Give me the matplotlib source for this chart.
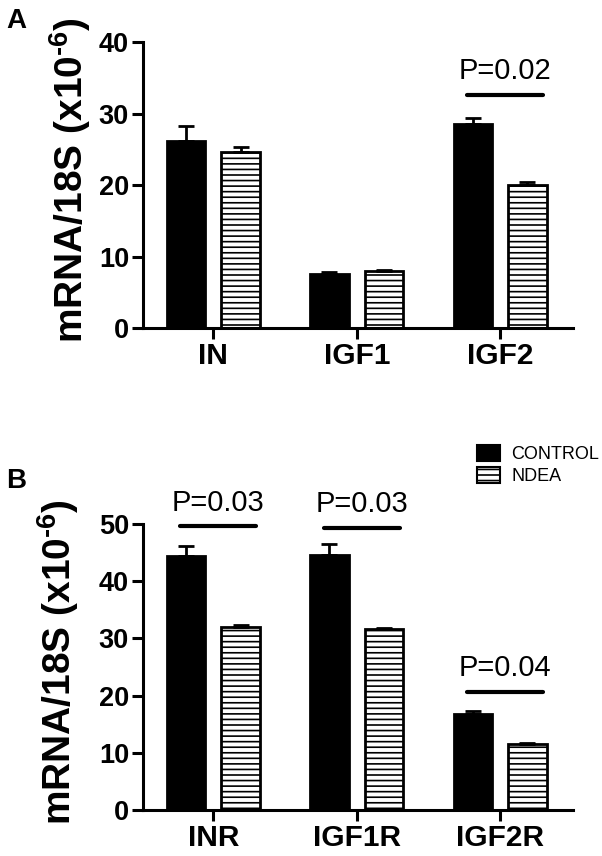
import numpy as np
import matplotlib.pyplot as plt
from matplotlib.patches import Patch

plt.rcParams['font.family'] = 'Liberation Sans'
plt.rcParams['mathtext.fontset'] = 'custom'
plt.rcParams['mathtext.rm'] = 'Liberation Sans:bold'
plt.rcParams['mathtext.bf'] = 'Liberation Sans:bold'
plt.rcParams['hatch.linewidth'] = 1.2

# Panel A: ligands
genes_a = ['IN', 'IGF1', 'IGF2']
control_a = [26.2, 7.55, 28.5]
control_a_err = [2.1, 0.25, 0.9]
ndea_a = [24.6, 8.0, 20.0]
ndea_a_err = [0.7, 0.1, 0.45]

# Panel B: receptors
genes_b = ['INR', 'IGF1R', 'IGF2R']
control_b = [44.4, 44.6, 16.8]
control_b_err = [1.7, 1.9, 0.5]
ndea_b = [32.0, 31.6, 11.5]
ndea_b_err = [0.4, 0.25, 0.25]

# significance marks: (category index, bar height, p text)
sig_a = [(2, 32.6, 'P=0.02')]
sig_b = [(0, 49.6, 'P=0.03'), (1, 49.4, 'P=0.03'), (2, 20.7, 'P=0.04')]

fig = plt.figure(figsize=(6.02, 8.56), dpi=100)


def panel(rect, genes, ctrl, ctrl_err, ndea, ndea_err, ymax, sigs, label_x):
    ax = fig.add_axes(rect)
    x = np.arange(len(genes))
    w = 0.27
    off = 0.19
    ax.bar(x - off, ctrl, w, color='black', edgecolor='black', linewidth=2,
           yerr=[np.zeros(len(x)), ctrl_err], capsize=6,
           error_kw=dict(elinewidth=2, capthick=2, ecolor='black'))
    ax.bar(x + off, ndea, w, color='white', edgecolor='black', linewidth=2,
           hatch='---', yerr=[np.zeros(len(x)), ndea_err], capsize=6,
           error_kw=dict(elinewidth=2, capthick=2, ecolor='black'))
    for i, h, txt in sigs:
        ax.plot([i - 0.23, i + 0.3], [h, h], color='black', lw=3,
                solid_capstyle='round', clip_on=False)
        ax.annotate(txt, (i + 0.035, h), xytext=(0, 7), textcoords='offset points',
                    ha='center', va='bottom', fontsize=21)
    ax.set_xlim(-0.49, 2.51)
    ax.set_ylim(0, ymax)
    ax.set_yticks(np.arange(0, ymax + 1, 10))
    ax.set_xticks(x)
    ax.set_xticklabels(genes, fontweight='bold', fontsize=21.5)
    for lab in ax.get_yticklabels():
        lab.set_fontweight('bold')
        lab.set_fontsize(19.5)
    ax.spines['top'].set_visible(False)
    ax.spines['right'].set_visible(False)
    ax.spines['left'].set_linewidth(2.2)
    ax.spines['bottom'].set_linewidth(2.2)
    ax.tick_params(axis='y', width=2.2, length=8, pad=2)
    ax.tick_params(axis='x', width=2.2, length=8, pad=2)
    ax.set_ylabel(r'mRNA/18S (x10$^{\text{-6}}$)', fontsize=28, fontweight='bold')
    ax.yaxis.set_label_coords(label_x, 0.518)
    return ax


ax_a = panel([0.2375, 0.6168, 0.715, 0.334], genes_a, control_a, control_a_err,
             ndea_a, ndea_a_err, 40, sig_a, -0.117)
ax_b = panel([0.2375, 0.0537, 0.715, 0.334], genes_b, control_b, control_b_err,
             ndea_b, ndea_b_err, 50, sig_b, -0.145)

fig.text(0.01, 0.967, 'A', fontsize=20, fontweight='bold')
fig.text(0.01, 0.43, 'B', fontsize=20, fontweight='bold')

handles = [Patch(facecolor='black', edgecolor='black', linewidth=1.5),
           Patch(facecolor='white', edgecolor='black', hatch='---', linewidth=1.5)]
fig.legend(handles, ['CONTROL', 'NDEA'], loc='upper left',
           bbox_to_anchor=(477 / 602, 1 - 445 / 856), frameon=False,
           fontsize=13, borderpad=0, borderaxespad=0, handlelength=1.3,
           handleheight=1.0, handletextpad=0.6, labelspacing=0.2)

fig.savefig('out.png', dpi=100)
